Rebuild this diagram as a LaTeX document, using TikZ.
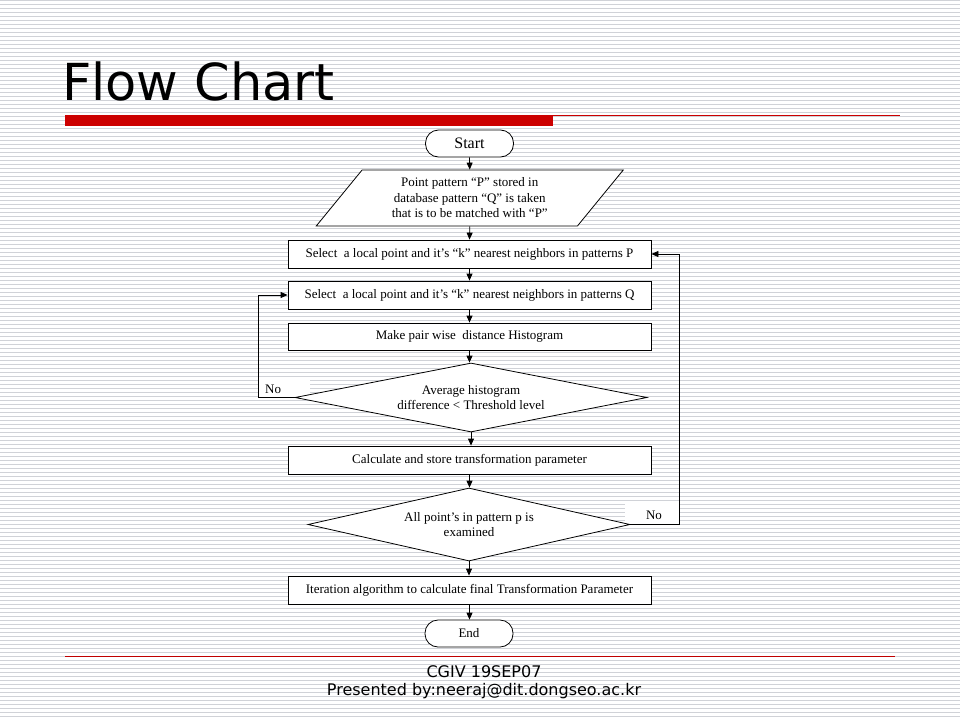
\documentclass[tikz,border=0pt]{standalone}
\usepackage{fontspec}
\setmainfont{Liberation Serif}
\newfontfamily\slidesans{DejaVu Sans}
\usetikzlibrary{shapes.geometric,arrows.meta}
\definecolor{stripe}{RGB}{208,210,215}
\definecolor{slidered}{RGB}{204,0,0}
\definecolor{footred}{RGB}{192,0,0}
\newcommand\fcfont{\fontsize{13}{15.5}\selectfont}
\begin{document}
\begin{tikzpicture}[x=1pt,y=-1pt,
  procbox/.style={draw, fill=white, line width=0.8pt, minimum width=363pt, minimum height=28pt, inner sep=2pt, font=\fcfont},
  termbox/.style={draw, fill=white, rounded corners=13pt, minimum width=88pt, minimum height=27pt, inner sep=2pt, line width=0.8pt},
  decbox/.style={draw, fill=white, diamond, aspect=5, inner sep=1pt, align=center, line width=0.8pt, font=\fcfont},
  iobox/.style={draw, fill=white, trapezium, trapezium left angle=42.6, trapezium right angle=137.4, trapezium stretches body, minimum width=307pt, minimum height=56pt, inner sep=1pt, align=center, line width=0.8pt, font=\fcfont},
  arr/.style={-{Triangle[length=7pt,width=6pt]}, line width=0.8pt},
  nobox/.style={fill=white, inner sep=0pt, font=\fcfont}]
\useasboundingbox (0,0) rectangle (960,720);
% background
\fill[white] (0,0) rectangle (960,720);
\foreach \i in {0,...,179} \fill[stripe] (0,{4*\i}) rectangle (960,{4*\i+1.2});
% title
\node[anchor=base west, inner sep=0pt, font=\slidesans\fontsize{51}{55}\selectfont] (title) at (62,100) {Flow Chart};
\fill[slidered] (65,115) rectangle (553,126);
\draw[slidered, line width=1pt] (553,115.5) -- (900,115.5);
% footer
\draw[footred, line width=1pt] (65,656) -- (895,656);
\node[anchor=base, inner sep=0pt, font=\slidesans\fontsize{16}{18}\selectfont] (foot1) at (484,677) {CGIV 19SEP07};
\node[anchor=base, inner sep=0pt, font=\slidesans\fontsize{16}{18}\selectfont] (foot2) at (484,695) {Presented by:neeraj@dit.dongseo.ac.kr};
% No label boxes
\node[nobox, minimum width=52pt, minimum height=19pt] (no1) at (284,387.5) {};
\node[anchor=base west, inner sep=0pt, font=\fcfont] (no1t) at (265,393) {No};
\node[nobox, minimum width=54pt, minimum height=20pt] (no2) at (652,514) {};
\node[anchor=base, inner sep=0pt, font=\fcfont] (no2t) at (654,519) {No};
% flowchart nodes
\node[termbox, font=\fontsize{16}{18}\selectfont] (start) at (469.5,143.5) {Start};
\node[iobox] (para) at (469.75,198) {Point pattern “P” stored in\\database pattern “Q” is taken\\that is to be matched with “P”};
\node[procbox] (p) at (469.5,254) {Select\ \ a local point and it’s “k” nearest neighbors in patterns P};
\node[procbox] (q) at (469.5,295) {Select\ \ a local point and it’s “k” nearest neighbors in patterns Q};
\node[procbox, minimum height=27pt] (h) at (469.5,336.5) {Make pair wise\ \ distance Histogram};
\node[decbox, minimum width=352pt, minimum height=69pt] (d1) at (471,397.5) {Average histogram\\difference < Threshold level};
\node[procbox] (c) at (469.5,460) {Calculate and store transformation parameter};
\node[decbox, minimum width=322pt, minimum height=73pt] (d2) at (469,524.5) {All point’s in pattern p is\\examined};
\node[procbox] (it) at (469.5,590) {Iteration algorithm to calculate final Transformation Parameter};
\node[termbox, font=\fcfont] (end) at (469,633.5) {End};
% connectors
\draw[arr] (start.south) -- (para.north);
\draw[arr] (para.south) -- (p.north);
\draw[arr] (p.south) -- (q.north);
\draw[arr] (q.south) -- (h.north);
\draw[arr] (h.south) -- (h.south |- d1.north);
\draw[arr] (d1.south) -- (c.north -| d1.south);
\draw[arr] (c.south) -- (d2.north -| c.south);
\draw[arr] (d2.south) -- (it.north -| d2.south);
\draw[arr] (it.south) -- (end.north -| it.south);
\coordinate (l1) at (258,397.5);
\coordinate (r1) at (679,524.5);
\draw[arr] (d1.west) -- (l1) |- (q.west);
\draw[arr] (d2.east) -- (r1) |- (p.east);
\end{tikzpicture}
\end{document}
